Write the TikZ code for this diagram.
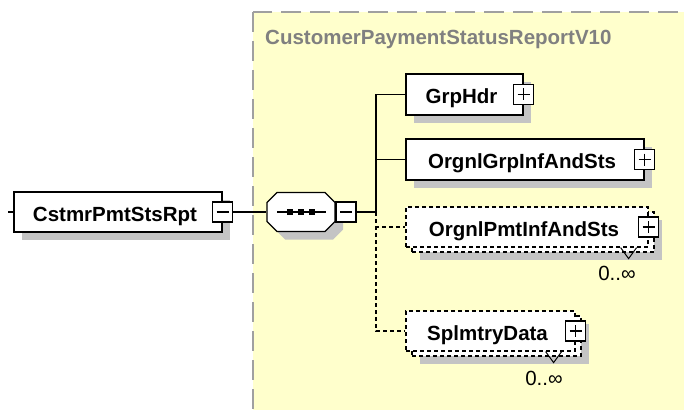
\documentclass[tikz,border=0pt]{standalone}
\usepackage{fontspec}
\setmainfont{Liberation Sans}
\usetikzlibrary{shadows,calc}
\definecolor{bgyellow}{HTML}{FFFFCC}
\definecolor{bordergray}{HTML}{A0A0A0}
\definecolor{shadowgray}{HTML}{C4C4C4}
\definecolor{titlegray}{HTML}{808080}
\tikzset{
  bigfont/.style={font=\fontsize{20.5}{24}\selectfont},
  elem/.style={draw=black, line width=1.2pt, fill=white, inner sep=0pt,
    text height=18pt, text depth=0pt, font=\bfseries\fontsize{20.5}{24}\selectfont},
  multi/.style={elem, dash pattern=on 4pt off 3pt},
  shad/.style={drop shadow={shadow xshift=8pt, shadow yshift=-8pt, opacity=1, fill=shadowgray}},
  pmbox/.style={draw=black, line width=1.2pt, fill=white, minimum size=20pt, inner sep=0pt},
  plusbox/.style={pmbox, path picture={
      \draw[line width=1.2pt] ($(path picture bounding box.north)+(0,4)$) -- ($(path picture bounding box.south)+(0,-4)$);
      \draw[line width=1.2pt] ($(path picture bounding box.west)+(4,0)$) -- ($(path picture bounding box.east)+(-4,0)$);}},
  minusbox/.style={pmbox, path picture={
      \draw[line width=1.2pt] ($(path picture bounding box.west)+(4,0)$) -- ($(path picture bounding box.east)+(-4,0)$);}},
  conn/.style={draw=black, line width=1.2pt},
  optconn/.style={conn, dash pattern=on 4pt off 3pt},
  card/.style={inner sep=0pt, font=\fontsize{20.5}{24}\selectfont},
  vmark/.style={draw=black, line width=1pt},
  octo/.pic={\path[pic actions] (-24,-19.5) -- (24,-19.5) -- (34,-9.5) -- (34,9.5) -- (24,19.5) -- (-24,19.5) -- (-34,9.5) -- (-34,-9.5) -- cycle;}
}
\begin{document}
\begin{tikzpicture}[x=1pt,y=-1pt]
\clip (0,0) rectangle (684,409);
\fill[white] (0,0) rectangle (684,409);
% model group frame
\draw[bordergray, line width=2pt, dash pattern=on 20pt off 9pt, fill=bgyellow] (253,12) rectangle (700,430);
\node[anchor=base west, inner sep=0pt, text=titlegray, font=\bfseries\fontsize{20.5}{24}\selectfont] (ttl) at (265,45) {CustomerPaymentStatusReportV10};

% root element
\node[elem, shad, minimum width=208pt, minimum height=40pt] (root) at (118,212) {CstmrPmtStsRpt\hspace*{6pt}};
\node[minusbox] (rootpm) at (root.east) {};
\coordinate (rootin) at (8,212);
\draw[conn] (rootin) -- (root.west);

% sequence compositor
\node[minimum width=68pt, minimum height=39pt, inner sep=0pt] (seq) at (301,212) {};
\pic[fill=shadowgray] at ($(seq.center)+(8,8)$) {octo};
\pic[draw=black, fill=white, line width=1.2pt] at (seq.center) {octo};
\draw[line width=1.2pt] ($(seq.center)+(-24,0)$) -- ($(seq.center)+(25,0)$);
\foreach \dx in {-11,0,11} {\fill ($(seq.center)+(\dx,0)+(-3,-3)$) rectangle ($(seq.center)+(\dx,0)+(3,3)$);}
\node[minusbox] (seqpm) at (346,212) {};
\coordinate (J) at (376,212);

% children
\node[elem, shad, minimum width=117pt, minimum height=41pt] (gh) at (464.5,94.5) {GrpHdr\hspace*{6pt}};
\node[plusbox] (ghpm) at (gh.east) {};

\node[elem, shad, minimum width=238pt, minimum height=41pt] (ogi) at (525,159.5) {OrgnlGrpInfAndSts\hspace*{6pt}};
\node[plusbox] (ogipm) at (ogi.east) {};

\node[multi, shad, minimum width=242pt, minimum height=40pt] (pmtback) at (533,232) {};
\node[multi, minimum width=242pt, minimum height=40pt] (pmt) at (527,227) {OrgnlPmtInfAndSts\hspace*{6pt}};
\node[plusbox] (pmtpm) at (pmt.east) {};
\draw[vmark] ($(pmt.south east)+(-28,0)$) -- ($(pmt.south east)+(-20,11)$) -- ($(pmt.south east)+(-12,0)$);
\node[card] (pmtcard) at (617,273) {0..∞};

\node[multi, shad, minimum width=169pt, minimum height=40pt] (splback) at (496.5,336) {};
\node[multi, minimum width=169pt, minimum height=40pt] (spl) at (490.5,331) {SplmtryData\hspace*{6pt}};
\node[plusbox] (splpm) at (spl.east) {};
\draw[vmark] ($(spl.south east)+(-30,0)$) -- ($(spl.south east)+(-22,11)$) -- ($(spl.south east)+(-14,0)$);
\node[card] (splcard) at (544,378) {0..∞};

% connectors
\draw[conn] (rootpm.east) -- ($(seq.west)+(-1,0)$);
\draw[conn] (seqpm.east) -- (J);
\draw[conn] (J) |- (gh.west);
\draw[conn] (J) |- (ogi.west);
\draw[optconn] (J) |- (pmt.west);
\draw[optconn] (J) |- (spl.west);
\end{tikzpicture}
\end{document}
